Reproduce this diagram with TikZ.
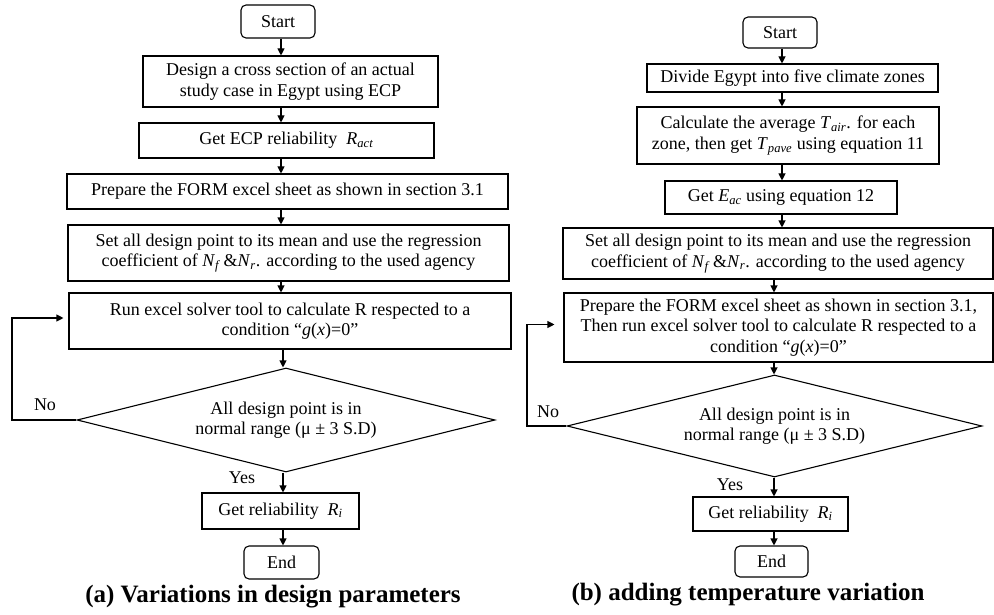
\documentclass[tikz,border=0pt]{standalone}
\usepackage{fontspec}
\setmainfont{Liberation Serif}
\usetikzlibrary{shapes.geometric,arrows.meta,calc}
\newcommand{\vsub}[2]{\textit{#1}\textsubscript{\textit{#2}}}
\begin{document}
\begin{tikzpicture}[x=1pt,y=-1pt,
  every node/.style={font=\fontsize{18}{20.5}\selectfont},
  box/.style={draw,line width=1.1pt,align=center,inner sep=1pt},
  term/.style={box,rounded corners=5pt},
  dec/.style={draw,line width=1.1pt,diamond,shape aspect=4,align=center,inner sep=0pt},
  arr/.style={line width=1.1pt,-{Triangle[length=7pt,width=7pt]}},
  lbl/.style={inner sep=0pt},
  captxt/.style={inner sep=0pt,font=\fontsize{25}{27}\selectfont\bfseries}]
\useasboundingbox (0,0) rectangle (994,615);
% ---------- left chart ----------
\node[term,minimum width=74pt,minimum height=33pt] (sA) at (278,21.5) {Start};
\node[box,minimum width=295pt,minimum height=51pt] (a1) at (290.5,81.5) {Design a cross section of an actual\\study case in Egypt using ECP};
\node[box,minimum width=295pt,minimum height=35pt] (a2) at (286.5,140.5) {Get ECP reliability\ \ \vsub{R}{act}};
\node[box,minimum width=441pt,minimum height=35pt] (a3) at (287.5,191.5) {Prepare the FORM excel sheet as shown in section 3.1};
\node[box,minimum width=441pt,minimum height=56pt] (a4) at (288.5,253) {Set all design point to its mean and use the regression\\coefficient of \vsub{N}{f}\,\&\vsub{N}{r}. according to the used agency};
\node[box,minimum width=442pt,minimum height=56pt] (a5) at (290,321) {Run excel solver tool to calculate R respected to a\\condition “\textit{g}(\textit{x})=0”};
\node[dec,minimum width=418pt,minimum height=104pt] (dA) at (286,420) {All design point is in\\normal range (μ ± 3 S.D)};
\node[box,minimum width=157pt,minimum height=36pt] (rA) at (280.5,511) {Get reliability\ \ \vsub{R}{i}};
\node[term,minimum width=75pt,minimum height=33pt] (eA) at (281.5,562.5) {End};
\coordinate (cA) at (281,0);
\coordinate (cA2) at (283,0);
\coordinate (fA) at (12,0);
\draw[arr] (sA.south -| cA) -- (a1.north -| cA);
\draw[arr] (a1.south -| cA) -- (a2.north -| cA);
\draw[arr] (a2.south -| cA) -- (a3.north -| cA);
\draw[arr] (a3.south -| cA) -- (a4.north -| cA);
\draw[arr] (a4.south -| cA) -- (a5.north -| cA);
\draw[arr] (a5.south -| cA2) -- (dA.north -| cA2);
\draw[arr] (dA.south -| cA2) -- (rA.north -| cA2);
\draw[arr] (rA.south -| cA2) -- (eA.north -| cA2);
\draw[arr,shorten >=5pt] (dA.west) -- (dA.west -| fA) |- ($(a5.west)+(0,-3)$);
\node[lbl] (noA) at (45,405) {No};
\node[lbl] (yesA) at (242,478) {Yes};
\node[captxt] (capA) at (273,597) {(a) Variations in design parameters};
% ---------- right chart ----------
\node[term,minimum width=74pt,minimum height=31pt] (sB) at (780,32.5) {Start};
\node[box,minimum width=291pt,minimum height=28pt] (b1) at (792.5,78) {Divide Egypt into five climate zones};
\node[box,minimum width=302pt,minimum height=57pt] (b2) at (788,135.5) {Calculate the average \vsub{T}{air}. for each\\zone, then get \vsub{T}{pave} using equation 11};
\node[box,minimum width=232pt,minimum height=33pt] (b3) at (781,197.5) {Get \vsub{E}{ac} using equation 12};
\node[box,minimum width=430pt,minimum height=51pt] (b4) at (778,253.5) {Set all design point to its mean and use the regression\\coefficient of \vsub{N}{f}\,\&\vsub{N}{r}. according to the used agency};
\node[box,minimum width=429pt,minimum height=69pt] (b5) at (778.5,327.5) {Prepare the FORM excel sheet as shown in section 3.1,\\Then run excel solver tool to calculate R respected to a\\condition “\textit{g}(\textit{x})=0”};
\node[dec,minimum width=415pt,minimum height=102pt] (dB) at (774.5,426) {All design point is in\\normal range (μ ± 3 S.D)};
\node[box,minimum width=155pt,minimum height=34pt] (rB) at (770.5,514) {Get reliability\ \ \vsub{R}{i}};
\node[term,minimum width=73pt,minimum height=31pt] (eB) at (771.5,561.5) {End};
\coordinate (cB) at (782,0);
\coordinate (cB2) at (774,0);
\coordinate (fB) at (527,0);
\draw[arr] (sB.south -| cB) -- (b1.north -| cB);
\draw[arr] (b1.south -| cB) -- (b2.north -| cB);
\draw[arr] (b2.south -| cB) -- (b3.north -| cB);
\draw[arr] (b3.south -| cB) -- (b4.north -| cB);
\draw[arr] (b4.south -| cB2) -- (b5.north -| cB2);
\draw[arr] (b5.south -| cB2) -- (dB.north -| cB2);
\draw[arr] (dB.south -| cB2) -- (rB.north -| cB2);
\draw[arr] (rB.south -| cB2) -- (eB.north -| cB2);
\draw[arr,shorten >=9pt] (dB.west) -- (dB.west -| fB) |- ($(b5.west)+(0,-3)$);
\node[lbl] (noB) at (548,412) {No};
\node[lbl] (yesB) at (730,485) {Yes};
\node[captxt] (capB) at (748,595) {(b) adding temperature variation};
\end{tikzpicture}
\end{document}
